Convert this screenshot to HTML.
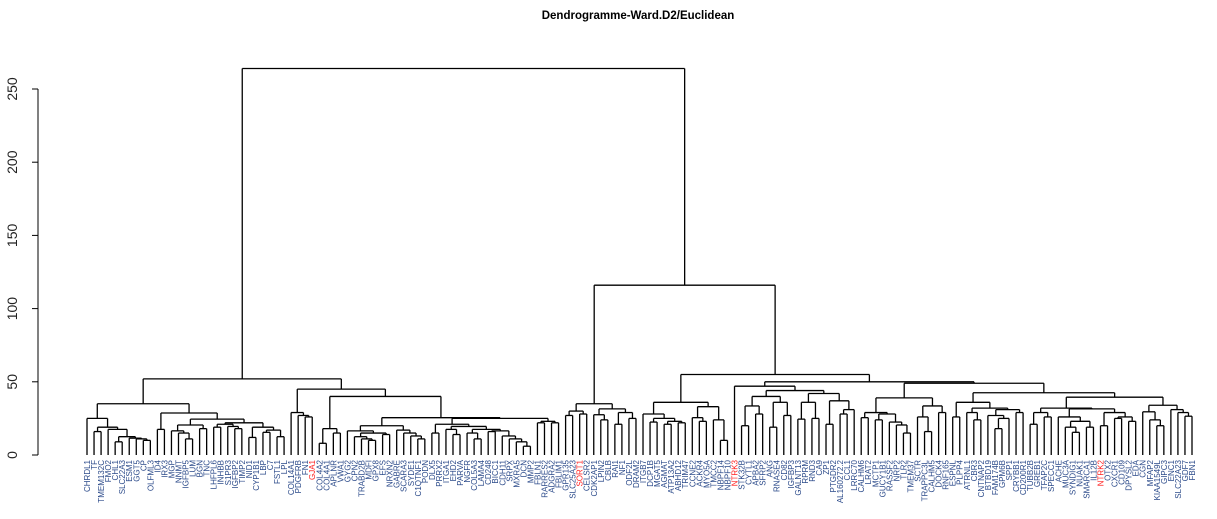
<!DOCTYPE html>
<html><head><meta charset="utf-8"><style>
html,body{margin:0;padding:0;background:#fff;}
svg{display:block;font-family:"Liberation Sans",sans-serif;}
</style></head><body>
<svg id="chart" width="1217" height="519" viewBox="0 0 1217 519" xmlns="http://www.w3.org/2000/svg">
<text x="638" y="19" text-anchor="middle" font-size="11.5" font-weight="bold">Dendrogramme-Ward.D2/Euclidean</text>
<g id="yaxis"></g>
<g id="tree" stroke="#000" stroke-width="1.3" fill="none"></g>
<g id="leaves" font-size="8"></g>
</svg>
<script>
const leafLabels = ["CHRDL1","TF","TMEM132C","FMO2","CHL1","SLC22A3","ESM1","GGT5","CP","OLFML3","ID4","IRX3","MGP","NNMT","IGFBP5","LUM","BGN","TNC","LHFPL6","INHBB","S1PR3","IGFBP2","TIMP2","NID1","CYP1B1","LBP","C7","FSTL1","LPL","COL14A1","PDGFRB","FN1","GJA1","COL4A2","COL4A1","APLNR","VWA1","GYG2","CPN2","TRABD2B","MDFI","GPX8","EFS","NRXN2","GABRE","SCARA3","SYDE1","C1QTNF1","PODN","DLX5","PRRX2","ITGA1","EHD2","PARVA","NGFR","COL5A3","LAMA4","CD248","BICC1","CDH11","SRPX","MXRA5","DCN","MMP2","FBLN1","RARRES2","ADGRA2","FBLIM1","GPR135","SLC25A23","SORT1","CELSR2","CDK2AP1","LPIN2","CBLB","RAI1","NF1","ODF2L","DRAM2","ITGB7","DCP1B","MGAT5","AGMAT","ATP13A2","ABHD12","TRIM47","CCNE2","ACKR4","MYO5A","TMCC2","NBPF14","NBPF10","NTRK3","STK32B","CYTL1","APBA2","SFRP2","ANG","RNASE4","CD82","IGFBP3","GALNT13","RPRM","RND3","CA9","ZP1","PTGDR2","AL160272.2","CCL1","LRRC70","CALHM6","LRAT2","MCTP1","GUCY1B1","RASSF2","NRP2","TLR2","TMEM37","SCTR","TRAPPC3L","CALHM5","DOCK4","RNF165","ESPNL","PLPP4","ATRNL1","CBR3","CNTNAP2","BTBD19","FAM174B","GPM6B","SPP1","CRYBB1","CD200R1","TUBB2B","GREB1","TFAP2C","SPECC1","ACHE","MUC3A","SYNDIG1","NUAK1","SMARCA1","IL12B","NTRK2","OTX2","CXCR1","CD109","DPYSL2","EDA","CGN","MFAP2","KIAA1549L","GIPC3","ENC1","SLC22A23","GDF7","FBN1"];
const redLeaves = ["GJA1","SORT1","NTRK3","NTRK2"];
const yTicks = [0,50,100,150,200,250];
// merge tree: [left, right, height]; leaves are 1-based indices into leafLabels
const A1 = [1,[[2,3,16],[4,[[5,6,9],[7,[8,[9,10,10],11],11.5],12.5],17.5],19],25];
const A2 = [[11,12,17.5],[[[13,[14,[15,16,11],15],16.5],[17,18,18],20.5],[[[19,20,19],[21,[22,23,18],19.5],21],[[24,25,12],[[26,27,15.5],[28,29,12.5],17],19],22],24.5],28.7];
const C1 = [30,[31,[32,33,26],27],29];
const C2 = [[34,35,8],[36,37,15],18];
const G1 = [38,[[39,[40,[41,42,10],11],12.5],[43,44,14],15],16.5];
const G2 = [45,[46,[47,[48,49,11],13],15],17];
const F2 = [[52,[53,54,14],17.5],[[55,[56,57,11],15],[[58,59,16],[60,[61,[62,[63,64,6],9],11],13],16.5],17.5],19.5];
const E2 = [[65,66,22],[67,68,22],23];
const R1 = [[[69,70,27],[71,72,28],30],[[73,[74,75,24],27.5],[[76,77,21],[78,79,25],29],31.5],35];
const R2a = [[80,[[81,82,22.5],[[83,84,21],[85,86,22],23],25],28],[[87,[88,89,23],25.5],[90,[91,92,10],24],33],36];
const P = [[[94,95,20],[96,97,28],33.5],[[98,99,19],[100,101,27],36],40];
const Q = [[[102,103,24.5],[104,105,25],36],[[106,107,21],[[108,109,28],110,31],37],42];
const S = [[[111,112,25.5],[[113,114,24],[115,[116,[117,118,15],20.5],22.5],28],29],[[119,[120,121,16],26],[122,123,29],33.5],39];
const U = [[124,125,26],[[126,[127,128,24],29],[[129,[[130,131,18],132,25],27],[133,134,29],31],32],36];
const W = [[[135,136,21],[137,138,26],29],[[139,[[140,[141,142,15.5],19],[143,144,19],23],26],[[145,146,20],[[147,148,25],[149,150,23],26],29],31.5],32];
const X = [[151,[152,[153,154,20],24],29.5],[155,[156,[157,158,26.5],29],31],34];
const tree = [[[A1,A2,35],[C1,[C2,[[G1,G2,20],[[[50,51,15],F2,21],E2,25],25.5],40],45],52],
  [R1,[R2a,[[93,[P,Q,44],47],[S,[U,[W,X,39.5],42.5],49],50],55],116],264];

const svgNS="http://www.w3.org/2000/svg";
const x0=87, x1=1192, yBase=455, yTop=89;
const n=leafLabels.length;
function xs(i){return x0+(i-1)*(x1-x0)/(n-1);}
function ys(h){return yBase-(yBase-yTop)*h/250;}
const treeG=document.getElementById('tree');
function line(x1_,y1_,x2_,y2_,name){
  const l=document.createElementNS(svgNS,'line');
  l.setAttribute('x1',x1_);l.setAttribute('y1',y1_);l.setAttribute('x2',x2_);l.setAttribute('y2',y2_);
  
  
  treeG.appendChild(l);
}
function draw(node){
  if(typeof node==='number') return {x:xs(node),h:0};
  const a=draw(node[0]), b=draw(node[1]), h=node[2];
  const yy=ys(h);
  line(a.x,ys(a.h),a.x,yy,'branch-vertical');
  line(b.x,ys(b.h),b.x,yy,'branch-vertical');
  line(a.x,yy,b.x,yy,'branch-merge');
  return {x:(a.x+b.x)/2,h:h};
}
draw(tree);
const leavesG=document.getElementById('leaves');
leafLabels.forEach((lab,k)=>{
  const t=document.createElementNS(svgNS,'text');
  const x=xs(k+1)+3;
  t.setAttribute('transform','translate('+x+',460) rotate(-90)');
  t.setAttribute('text-anchor','end');
  t.setAttribute('fill', redLeaves.includes(lab)?'#ff2020':'#2b4a8a');
  t.textContent=lab;
  
  
  leavesG.appendChild(t);
});
const ax=document.getElementById('yaxis');
const al=document.createElementNS(svgNS,'line');
al.setAttribute('x1',38);al.setAttribute('x2',38);al.setAttribute('y1',ys(0));al.setAttribute('y2',ys(250));
al.setAttribute('stroke','#000');al.setAttribute('stroke-width','1');


ax.appendChild(al);
yTicks.forEach(v=>{
  const tk=document.createElementNS(svgNS,'line');
  tk.setAttribute('x1',32);tk.setAttribute('x2',38);tk.setAttribute('y1',ys(v));tk.setAttribute('y2',ys(v));
  tk.setAttribute('stroke','#000');
  
  
  ax.appendChild(tk);
  const tl=document.createElementNS(svgNS,'text');
  tl.setAttribute('transform','translate(17,'+ys(v)+') rotate(-90)');
  tl.setAttribute('text-anchor','middle');
  tl.setAttribute('font-size','14');
  tl.setAttribute('fill','#222');
  tl.textContent=v;
  
  
  ax.appendChild(tl);
});
</script>
</body></html>
